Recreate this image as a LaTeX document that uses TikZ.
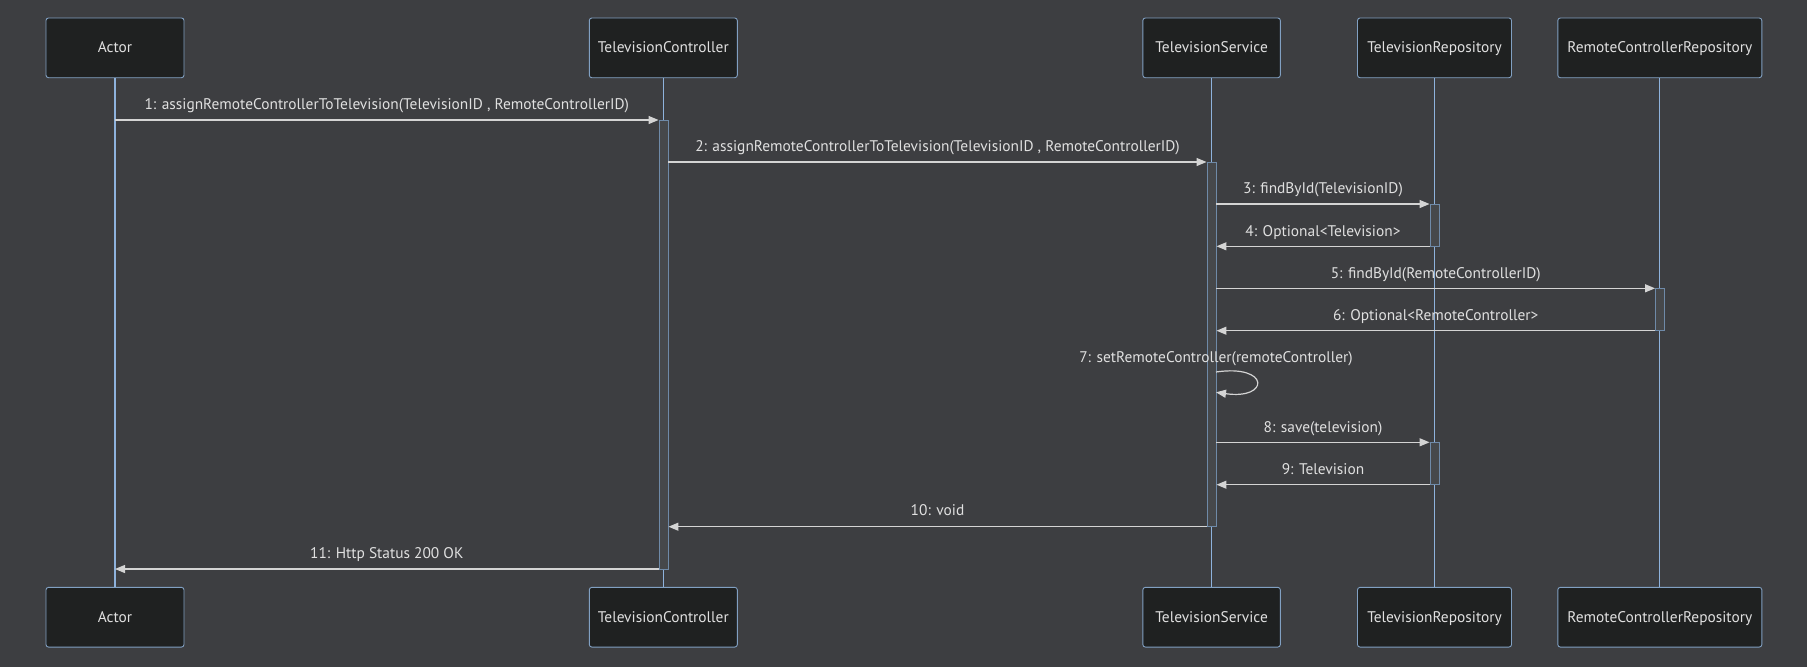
\documentclass[tikz,border=0pt]{standalone}
\usepackage{fontspec}
\setmainfont{PT Sans}
\usetikzlibrary{arrows.meta}

\definecolor{bgcol}{HTML}{3D3E41}
\definecolor{boxfill}{HTML}{1F2121}
\definecolor{boxline}{HTML}{81A0C2}
\definecolor{lifecol}{HTML}{8EB2DC}
\definecolor{msgcol}{HTML}{D4D4D4}
\definecolor{txtcol}{HTML}{E0E0E0}
\definecolor{actfill}{HTML}{46484B}
\definecolor{actline}{HTML}{6F8AA8}

\begin{document}
\begin{tikzpicture}[x=1pt,y=-1pt,
  participant/.style={draw=boxline, fill=boxfill, line width=0.9pt, rounded corners=2.5pt,
    minimum height=59.7pt, inner sep=0pt, text height=12.5pt, text depth=2.6pt,
    text=txtcol, font=\fontsize{15.4}{18}\selectfont},
  lifeline/.style={draw=lifecol, line width=1.1pt},
  act/.style={draw=actline, fill=actfill, line width=0.9pt, minimum width=9pt, inner sep=0pt},
  msg/.style={draw=msgcol, line width=1.2pt, -{Triangle[length=10pt,width=8pt]}},
  lbl/.style={text=txtcol, font=\fontsize{15.4}{18}\selectfont, inner sep=0pt,
    text height=11pt, text depth=3.5pt}
]
% canvas
\fill[bgcol] (0,0) rectangle (1807,667);
\useasboundingbox (0,0) rectangle (1807,667);

% participants, top row
\node[participant, minimum width=138pt] (aT)  at (115,47.85)    {Actor};
\node[participant, minimum width=148pt] (tcT) at (663.3,47.85)  {TelevisionController};
\node[participant, minimum width=137.5pt] (tsT) at (1211.6,47.85) {TelevisionService};
\node[participant, minimum width=154pt] (trT) at (1434.5,47.85) {TelevisionRepository};
\node[participant, minimum width=204pt] (rcT) at (1659.8,47.85) {RemoteControllerRepository};

% participants, bottom row
\node[participant, minimum width=138pt] (aB)  at (115,617.2)    {Actor};
\node[participant, minimum width=148pt] (tcB) at (663.3,617.2)  {TelevisionController};
\node[participant, minimum width=137.5pt] (tsB) at (1211.6,617.2) {TelevisionService};
\node[participant, minimum width=154pt] (trB) at (1434.5,617.2) {TelevisionRepository};
\node[participant, minimum width=204pt] (rcB) at (1659.8,617.2) {RemoteControllerRepository};

% lifelines
\draw[lifeline] (aT.south)  -- (aB.north);
\draw[lifeline] (tcT.south) -- (tcB.north);
\draw[lifeline] (tsT.south) -- (tsB.north);
\draw[lifeline] (trT.south) -- (trB.north);
\draw[lifeline] (rcT.south) -- (rcB.north);

% activation bars
\node[act, minimum height=449pt]   (tcA)  at (663.5,344.5)  {};
\node[act, minimum height=364.7pt] (tsA)  at (1211.5,344.35) {};
\node[act, minimum height=42.3pt]  (trA1) at (1434.5,225.15) {};
\node[act, minimum height=42.4pt]  (rcA)  at (1660,309.5)   {};
\node[act, minimum height=42.4pt]  (trA2) at (1434.5,463.5) {};

% message levels
\coordinate (m1) at (0,120);
\coordinate (m2) at (0,162);
\coordinate (m3) at (0,204);
\coordinate (m4) at (0,246.3);
\coordinate (m5) at (0,288.3);
\coordinate (m6) at (0,330.7);
\coordinate (m8) at (0,442.3);
\coordinate (m9) at (0,484.7);
\coordinate (m10) at (0,526.7);
\coordinate (m11) at (0,569);

% messages
\draw[msg] (aT |- m1) -- (tcA.west |- m1)
  node[lbl, midway, yshift=14pt] {1: assignRemoteControllerToTelevision(TelevisionID , RemoteControllerID)};
\draw[msg] (tcA.east |- m2) -- (tsA.west |- m2)
  node[lbl, midway, yshift=14pt] {2: assignRemoteControllerToTelevision(TelevisionID , RemoteControllerID)};
\draw[msg] (tsA.east |- m3) -- (trA1.west |- m3)
  node[lbl, midway, yshift=14pt] {3: findById(TelevisionID)};
\draw[msg] (trA1.west |- m4) -- (tsA.east |- m4)
  node[lbl, midway, yshift=14pt] {4: Optional<Television>};
\draw[msg] (tsA.east |- m5) -- (rcA.west |- m5)
  node[lbl, midway, yshift=14pt] {5: findById(RemoteControllerID)};
\draw[msg] (rcA.west |- m6) -- (tsA.east |- m6)
  node[lbl, midway, yshift=14pt] {6: Optional<RemoteController>};

% self call
\coordinate (s7a) at (1216,372);
\coordinate (s7b) at (1216,392.3);
\node[lbl] (l7) at (1216,358.3) {7: setRemoteController(remoteController)};
\draw[msg] (s7a) .. controls (1270,364) and (1270,400) .. (s7b);

\draw[msg] (tsA.east |- m8) -- (trA2.west |- m8)
  node[lbl, midway, yshift=14pt] {8: save(television)};
\draw[msg] (trA2.west |- m9) -- (tsA.east |- m9)
  node[lbl, midway, yshift=14pt] {9: Television};
\draw[msg] (tsA.west |- m10) -- (tcA.east |- m10)
  node[lbl, midway, yshift=15pt] {10: void};
\draw[msg] (tcA.west |- m11) -- (aT |- m11)
  node[lbl, midway, yshift=14pt] {11: Http Status 200 OK};
\end{tikzpicture}
\end{document}
